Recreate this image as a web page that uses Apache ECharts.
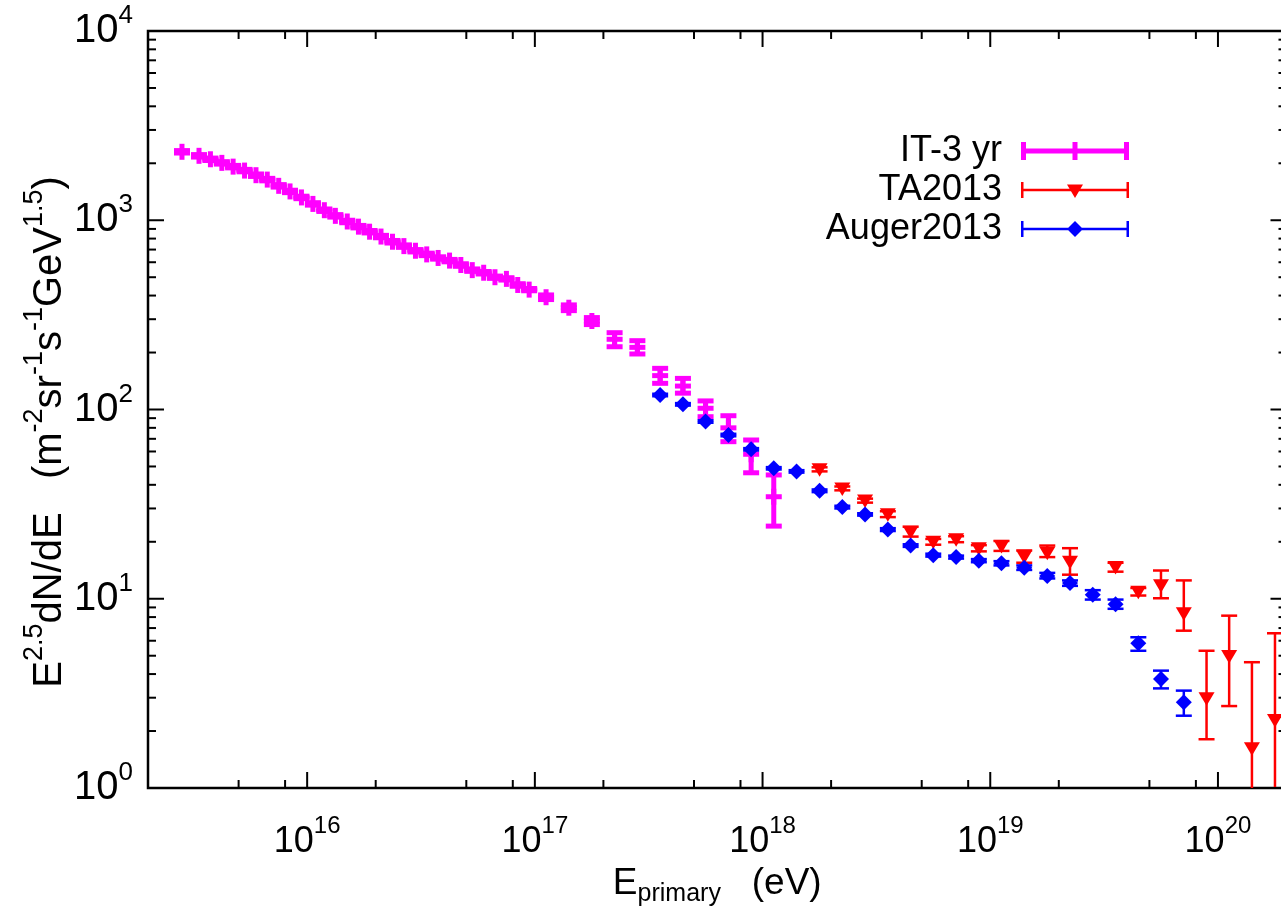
<!DOCTYPE html>
<html><head><meta charset="utf-8">
<script src="https://cdn.jsdelivr.net/npm/echarts@6/dist/echarts.min.js"></script>
<style>html,body{margin:0;padding:0;background:#fff}#c{width:1281px;height:910px}</style>
</head><body><div id="c"></div>
<script>
// ---------- data ----------
const seriesNames = ['IT-3 yr', 'TA2013', 'Auger2013'];

const itEnergy = [2.82e15, 3.35e15, 3.76e15, 4.22e15, 4.73e15, 5.31e15, 5.96e15, 6.68e15, 7.50e15, 8.41e15,
  9.44e15, 1.06e16, 1.19e16, 1.33e16, 1.50e16, 1.68e16, 1.88e16, 2.11e16, 2.37e16, 2.66e16,
  2.99e16, 3.35e16, 3.76e16, 4.22e16, 4.73e16, 5.31e16, 5.96e16, 6.68e16, 7.50e16, 8.41e16,
  9.44e16, 1.12e17, 1.41e17, 1.78e17, 2.24e17, 2.82e17, 3.55e17, 4.47e17, 5.62e17, 7.08e17,
  8.91e17, 1.12e18];
const itFlux = [2300, 2190, 2100, 2010, 1920, 1830, 1730, 1640, 1520, 1420,
  1320, 1220, 1130, 1055, 985, 925, 870, 820, 770, 730,
  690, 660, 632, 612, 580, 545, 528, 500, 490, 455,
  430, 392, 345, 293.5, 235, 213, 151, 133, 101.5, 80,
  58, 34.6];
const itLow = [2266, 2157, 2069, 1980, 1891, 1803, 1704, 1615, 1497, 1399,
  1300, 1202, 1113, 1039, 970, 911, 857, 808, 758, 719,
  680, 650, 623, 603, 571, 537, 520, 493, 483, 448,
  424, 381, 333, 281, 214.6, 196.5, 137.5, 122, 91.6, 67.6,
  46.3, 24.2];
const itHigh = [2334, 2223, 2131, 2040, 1949, 1857, 1756, 1665, 1543, 1441,
  1340, 1238, 1147, 1071, 1000, 939, 883, 832, 782, 741,
  700, 670, 641, 621, 589, 553, 536, 507, 497, 462,
  436, 403, 357, 306, 254.6, 231, 165, 146, 111, 92.7,
  69, 45.1];

const taEnergy = [1.78e18, 2.24e18, 2.82e18, 3.55e18, 4.47e18, 5.62e18, 7.08e18, 8.91e18, 1.12e19, 1.41e19,
  1.78e19, 2.24e19, 3.55e19, 4.47e19, 5.62e19, 7.08e19, 8.91e19, 1.12e20, 1.41e20, 1.78e20];
const taFlux = [48.3, 38.3, 33.0, 28.0, 22.6, 20.0, 20.6, 18.5, 19.0, 16.7,
  17.5, 15.7, 14.7, 10.9, 11.8, 8.38, 2.98, 4.98, 1.62, 2.29];
const taLow = [47.1, 37.4, 32.2, 27.0, 21.3, 19.3, 19.9, 17.8, 17.9, 15.5,
  16.6, 13.4, 13.9, 10.4, 10.06, 6.78, 1.81, 2.71, 0.5, 0.5];
const taHigh = [49.5, 39.2, 33.8, 29.0, 24.0, 20.7, 21.4, 19.2, 20.2, 18.0,
  19.1, 18.5, 15.5, 11.4, 14.1, 12.5, 5.31, 8.14, 4.62, 6.57];

const augerEnergy = [3.55e17, 4.47e17, 5.62e17, 7.08e17, 8.91e17, 1.12e18, 1.41e18, 1.78e18, 2.24e18, 2.82e18,
  3.55e18, 4.47e18, 5.62e18, 7.08e18, 8.91e18, 1.12e19, 1.41e19, 1.78e19, 2.24e19, 2.82e19,
  3.55e19, 4.47e19, 5.62e19, 7.08e19];
const augerFlux = [119.3, 106.5, 86.4, 73.3, 61.6, 48.9, 47.1, 37.2, 30.5, 27.9,
  23.2, 19.1, 17.0, 16.6, 15.9, 15.4, 14.6, 13.2, 12.1, 10.5,
  9.35, 5.82, 3.77, 2.84];
const augerLow = [117.5, 104.9, 85.1, 72.2, 60.7, 48.2, 46.4, 36.6, 30.0, 27.5,
  22.8, 18.8, 16.7, 16.3, 15.6, 15.0, 14.2, 12.8, 11.7, 9.9,
  8.85, 5.31, 3.36, 2.41];
const augerHigh = [121.1, 108.1, 87.7, 74.4, 62.5, 49.6, 47.8, 37.8, 31.0, 28.3,
  23.6, 19.4, 17.3, 16.9, 16.2, 15.8, 15.0, 13.7, 12.5, 11.1,
  9.9, 6.26, 4.17, 3.27];

const xRange = [2e15, 2e20];
const yRange = [1, 1e4];
const xMajorTicks = [1e16, 1e17, 1e18, 1e19, 1e20];
const xMinorTicks = [5e15, 8e15, 2e16, 5e16, 8e16, 2e17, 5e17, 8e17, 2e18, 5e18, 8e18, 2e19, 5e19, 8e19];
const yMajorTicks = [1, 10, 100, 1000, 10000];
const yMinorMultipliers = [2, 3, 4, 5, 6, 7, 8, 9];

// ---------- styling ----------
const SANS = '"Liberation Sans", Arial, Helvetica, sans-serif';
const MAGENTA = '#ff00ff', RED = '#ff0000', BLUE = '#0000ff';

function zip(e, v, lo, hi) { return e.map((x, i) => [x, v[i], lo[i], hi[i]]); }

function errorBar(api, col, lw, capHalf) {
  const x = api.value(0);
  const c = api.coord([x, api.value(1)]);
  const cl = api.coord([x, api.value(2)]);
  const ch = api.coord([x, api.value(3)]);
  const st = { stroke: col, lineWidth: lw, fill: null, lineCap: 'butt' };
  return { c: c, items: [
    { type: 'line', shape: { x1: c[0], y1: ch[1], x2: c[0], y2: cl[1] }, style: st },
    { type: 'line', shape: { x1: c[0] - capHalf, y1: ch[1], x2: c[0] + capHalf, y2: ch[1] }, style: st },
    { type: 'line', shape: { x1: c[0] - capHalf, y1: cl[1], x2: c[0] + capHalf, y2: cl[1] }, style: st }
  ] };
}

function renderIT(params, api) {
  const e = errorBar(api, MAGENTA, 5, 8);
  const c = e.c, st = { stroke: MAGENTA, lineWidth: 5, fill: null };
  e.items.push({ type: 'line', shape: { x1: c[0] - 8, y1: c[1], x2: c[0] + 8, y2: c[1] }, style: st });
  e.items.push({ type: 'line', shape: { x1: c[0], y1: c[1] - 8, x2: c[0], y2: c[1] + 8 }, style: st });
  return { type: 'group', children: e.items };
}
function renderTA(params, api) {
  const e = errorBar(api, RED, 2.5, 8);
  const c = e.c;
  e.items.push({ type: 'polygon', shape: { points: [[c[0] - 8, c[1] - 6], [c[0] + 8, c[1] - 6], [c[0], c[1] + 7.5]] },
    style: { fill: RED } });
  return { type: 'group', children: e.items };
}
function renderAuger(params, api) {
  const e = errorBar(api, BLUE, 2.5, 8);
  const c = e.c;
  e.items.push({ type: 'polygon', shape: { points: [[c[0], c[1] - 8], [c[0] + 8, c[1]], [c[0], c[1] + 8], [c[0] - 8, c[1]]] },
    style: { fill: BLUE } });
  return { type: 'group', children: e.items };
}

// tick marks on all four sides
const tickData = [];
xMajorTicks.forEach(v => tickData.push([v, yRange[0], 0, 1]));
xMinorTicks.forEach(v => tickData.push([v, yRange[0], 0, 0]));
yMajorTicks.forEach(v => tickData.push([xRange[0], v, 1, 1]));
yMajorTicks.slice(0, -1).forEach(p => yMinorMultipliers.forEach(m => tickData.push([xRange[0], p * m, 1, 0])));

function renderTick(params, api) {
  const kind = api.value(2), len = api.value(3) ? 16 : 8;
  const st = { stroke: '#000', lineWidth: 2 };
  if (kind === 0) {
    const v = api.value(0);
    const b = api.coord([v, yRange[0]]), t = api.coord([v, yRange[1]]);
    return { type: 'group', children: [
      { type: 'line', shape: { x1: b[0], y1: b[1], x2: b[0], y2: b[1] - len }, style: st },
      { type: 'line', shape: { x1: t[0], y1: t[1], x2: t[0], y2: t[1] + len }, style: st }
    ] };
  }
  const v = api.value(1);
  const l = api.coord([xRange[0], v]), r = api.coord([xRange[1], v]);
  return { type: 'group', children: [
    { type: 'line', shape: { x1: l[0], y1: l[1], x2: l[0] + len, y2: l[1] }, style: st },
    { type: 'line', shape: { x1: r[0], y1: r[1], x2: r[0] - len, y2: r[1] }, style: st }
  ] };
}

function powLabel(v) {
  const e = Math.log10(v);
  if (Math.abs(e - Math.round(e)) > 1e-6) return '';
  return '{b|10}{s|' + Math.round(e) + '}';
}

// legend icons: error bar with caps and the series marker
const iconIT = 'path://M0 0H5V18H0Z M103 0H108V18H103Z M0 6.5H108V11.5H0Z M51.5 0H56.5V18H51.5Z';
const iconTA = 'path://M0 1H2.5V17H0Z M105.5 1H108V17H105.5Z M0 7.8H108V10.2H0Z M46 3.5H62L54 17Z M0 0H0.01V18H0Z';
const iconAuger = 'path://M0 1H2.5V17H0Z M105.5 1H108V17H105.5Z M0 7.8H108V10.2H0Z M54 1L62 9L54 17L46 9Z M0 0H0.01V18H0Z';

const chart = echarts.init(document.getElementById('c'), null, { renderer: 'canvas' });
chart.setOption({
  animation: false,
  backgroundColor: '#fff',
  grid: { left: 148, top: 31, bottom: 122, right: -5.5, outerBoundsMode: 'none', containLabel: false,
    show: true, borderColor: '#000', borderWidth: 2.5, backgroundColor: 'transparent' },
  xAxis: {
    type: 'log', logBase: 10, min: xRange[0], max: xRange[1],
    axisLine: { show: false }, axisTick: { show: false }, splitLine: { show: false }, minorTick: { show: false },
    axisLabel: {
      margin: 26, formatter: powLabel, color: '#000',
      rich: {
        b: { fontFamily: SANS, fontSize: 36, color: '#000' },
        s: { fontFamily: SANS, fontSize: 24, color: '#000', padding: [0, 0, 32, 0] }
      }
    },
    name: '{b|E}{sub|primary}{b|   (eV)}', nameLocation: 'middle', nameGap: 70,
    nameTextStyle: {
      rich: {
        b: { fontFamily: SANS, fontSize: 37, color: '#000' },
        sub: { fontFamily: SANS, fontSize: 25, color: '#000', padding: [22, 0, 0, 0] }
      }
    }
  },
  yAxis: {
    type: 'log', logBase: 10, min: yRange[0], max: yRange[1],
    axisLine: { show: false }, axisTick: { show: false }, splitLine: { show: false }, minorTick: { show: false },
    axisLabel: {
      margin: 15, formatter: powLabel, color: '#000',
      rich: {
        b: { fontFamily: SANS, fontSize: 40, color: '#000' },
        s: { fontFamily: SANS, fontSize: 26, color: '#000', padding: [0, 0, 30, 0] }
      }
    }
  },
  legend: {
    orient: 'vertical', right: 147, top: 128, align: 'right',
    itemWidth: 108, itemHeight: 18, itemGap: 3,
    textStyle: { fontFamily: SANS, fontSize: 36, color: '#000', lineHeight: 32, padding: [0, 14, 0, 0] },
    data: [
      { name: seriesNames[0], icon: iconIT },
      { name: seriesNames[1], icon: iconTA },
      { name: seriesNames[2], icon: iconAuger }
    ]
  },
  graphic: [{
    type: 'text', x: 50, y: 432, rotation: Math.PI / 2, silent: true,
    style: {
      text: '{b|E}{s|2.5}{b|dN/dE   (m}{s|-2}{b|sr}{s|-1}{b|s}{s|-1}{b|GeV}{s|1.5}{b|)}',
      align: 'center', verticalAlign: 'middle',
      rich: {
        b: { fontFamily: SANS, fontSize: 40, fill: '#000' },
        s: { fontFamily: SANS, fontSize: 27, fill: '#000', padding: [0, 0, 30, 0] }
      }
    }
  }],
  series: [
    { name: seriesNames[0], type: 'custom', renderItem: renderIT, data: zip(itEnergy, itFlux, itLow, itHigh),
      encode: { x: 0, y: 1 }, itemStyle: { color: MAGENTA }, clip: true, z: 2, silent: true },
    { name: seriesNames[1], type: 'custom', renderItem: renderTA, data: zip(taEnergy, taFlux, taLow, taHigh),
      encode: { x: 0, y: 1 }, itemStyle: { color: RED }, clip: true, z: 3, silent: true },
    { name: seriesNames[2], type: 'custom', renderItem: renderAuger, data: zip(augerEnergy, augerFlux, augerLow, augerHigh),
      encode: { x: 0, y: 1 }, itemStyle: { color: BLUE }, clip: true, z: 4, silent: true },
    { name: 'ticks', type: 'custom', renderItem: renderTick, data: tickData, encode: { x: 0, y: 1 },
      clip: false, z: 5, silent: true }
  ]
});
</script></body></html>
